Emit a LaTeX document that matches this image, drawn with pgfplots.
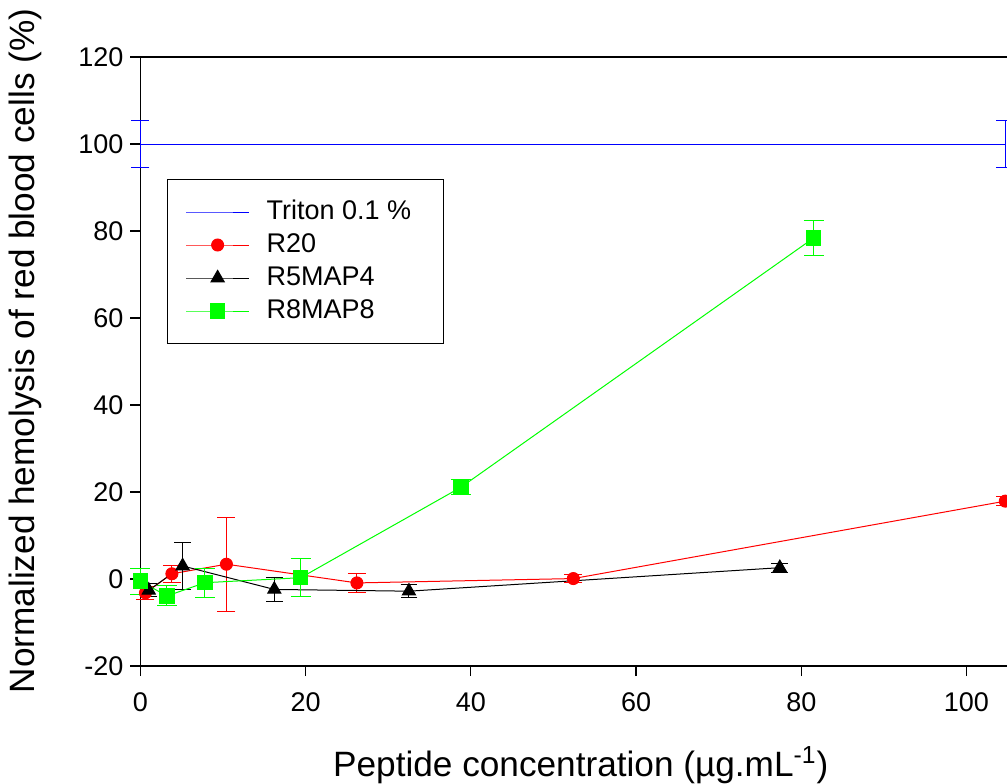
\documentclass[border=0pt]{standalone}
\usepackage{fontspec}
\setmainfont{Liberation Sans}
\usepackage{pgfplots}
\pgfplotsset{compat=1.18}

\begin{document}
\begin{tikzpicture}
\useasboundingbox (-70.25pt,-58.5pt) rectangle (433.25pt,333pt);
\clip (-70.25pt,-58.5pt) rectangle (433.25pt,333pt);
\begin{axis}[
  anchor=south west, at={(0pt,0pt)},
  scale only axis, width=440.25pt, height=304.5pt,
  xmin=0, xmax=106.6, ymin=-20, ymax=120,
  clip=false,
  axis line style={line width=0.7pt},
  xtick={0,20,...,100}, ytick={-20,0,...,120},
  xtick pos=left, ytick pos=left,
  tick align=outside, major tick length=5pt,
  tick style={line width=0.6pt, black},
  ticklabel style={font=\fontsize{13.5}{16}\selectfont},
  xticklabel style={yshift=-5pt},
  /pgf/number format/assume math mode=true,
  every axis x label/.style={at={(axis description cs:0.5,-0.1626)}, anchor=center,
    font=\fontsize{17.6}{20}\selectfont},
  every axis y label/.style={at={(axis description cs:-0.1312,0.5172)}, anchor=center,
    rotate=90, font=\fontsize{17.6}{20}\selectfont},
  xlabel={Peptide concentration (µg.mL\textsuperscript{-1})},
  ylabel={Normalized hemolysis of red blood cells (\%)},
  legend style={at={(axis cs:3.2,92)}, anchor=north west, draw=black, line width=0.7pt,
    fill=white, font=\fontsize{13.5}{16}\selectfont, inner xsep=9pt, inner ysep=8pt,
    row sep=0pt, column sep=8.5pt,
    nodes={inner sep=0pt, text height=12pt, text depth=4.5pt}},
  legend cell align=left,
  legend image code/.code={\draw[mark repeat=2,mark phase=2,#1] plot coordinates {(0pt,0pt)(15.75pt,0pt)(31.5pt,0pt)};},
]
% Triton 0.1 %
\addplot[blue, line width=0.5pt, no markers,
  error bars/.cd, y dir=both, y explicit,
  error bar style={line width=0.5pt},
  error mark options={rotate=90, mark size=4.5pt, blue, line width=0.5pt}]
  coordinates {(0,100) +- (0,5.5) (104.7,100) +- (0,5.5)};
% R20
\addplot[red, line width=0.5pt, mark=*, mark size=3pt, mark options={solid, fill=red},
  error bars/.cd, y dir=both, y explicit,
  error bar style={line width=0.5pt},
  error mark options={rotate=90, mark size=4.5pt, red, line width=0.5pt}]
  coordinates {(0.6,-3.2) +- (0,1.5) (3.8,1.2) +- (0,2.0) (10.4,3.4) +- (0,10.8)
    (26.2,-0.9) +- (0,2.1) (52.4,0.1) +- (0,1.0) (104.7,17.9) +- (0,1.0)};
% R5MAP4
\addplot[black, line width=0.5pt, mark=triangle*, mark size=3.8pt, mark options={solid, fill=black},
  error bars/.cd, y dir=both, y explicit,
  error bar style={line width=0.5pt},
  error mark options={rotate=90, mark size=4.2pt, black, line width=0.5pt}]
  coordinates {(1.0,-2.6) +- (0,1.5) (5.1,3.0) +- (0,5.3) (16.2,-2.4) +- (0,2.8)
    (32.5,-2.8) +- (0,1.5) (77.4,2.6) +- (0,1.0)};
% R8MAP8
\addplot[green, line width=0.5pt, mark=square*, mark size=3.6pt, mark options={solid, fill=green},
  error bars/.cd, y dir=both, y explicit,
  error bar style={line width=0.5pt},
  error mark options={rotate=90, mark size=5pt, green, line width=0.5pt}]
  coordinates {(0,-0.5) +- (0,3.0) (3.2,-3.9) +- (0,2.3) (7.8,-0.85) +- (0,3.3)
    (19.4,0.3) +- (0,4.3) (38.8,21.1) +- (0,1.7) (81.5,78.4) +- (0,4.1)};
\legend{\makebox[79.5pt][l]{Triton 0.1 \%}, R20, R5MAP4, R8MAP8}
\end{axis}
\end{tikzpicture}
\end{document}
